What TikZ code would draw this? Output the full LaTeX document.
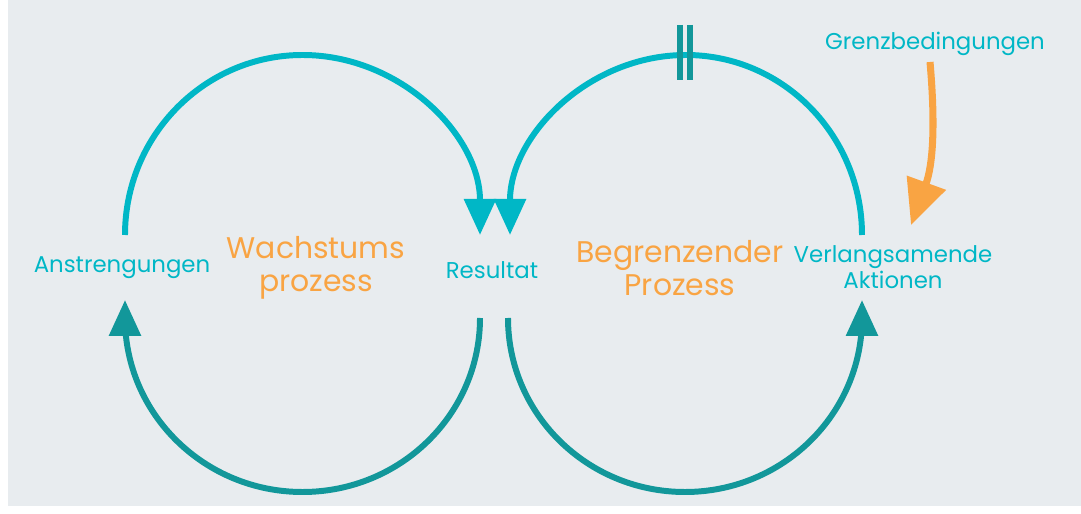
\documentclass[tikz,border=0pt]{standalone}
\usepackage{fontspec}
\setmainfont{Poppins}
\usetikzlibrary{arrows.meta}
\definecolor{loopcyan}{HTML}{00B7C6}
\definecolor{loopteal}{HTML}{12979A}
\definecolor{loaorange}{HTML}{F9A443}
\definecolor{bggrey}{HTML}{E8ECEF}
\begin{document}
\begin{tikzpicture}[outer sep=0pt]
\tikzstyle{loop}=[line width=3.4pt, -{Triangle[width=0.62cm,length=0.72cm]}]
\tikzstyle{term}=[text=loopcyan, font=\fontsize{13}{15}\selectfont, align=center]
\tikzstyle{proc}=[text=loaorange, font=\fontsize{17}{19}\selectfont, align=center]

\fill[white] (0,0) rectangle (21.62,10.28);
\fill[bggrey] (0.16,0.16) rectangle (21.62,10.28);

% upper loops
\coordinate (effortTop)  at (2.5,5.58);
\coordinate (limitTop)   at (17.24,5.58);
\draw[loop, loopcyan] (effortTop) arc[start angle=180, end angle=0, x radius=3.55cm, y radius=3.6cm];
\draw[loop, loopcyan] (limitTop)  arc[start angle=0, end angle=180, x radius=3.52cm, y radius=3.6cm];

% delay
\draw[line width=3pt, loopteal] (13.6,9.78) -- (13.6,8.68);
\draw[line width=3pt, loopteal] (13.8,9.78) -- (13.8,8.68);

% lower loops
\coordinate (resLeft)  at (9.6,3.92);
\coordinate (resRight) at (10.16,3.92);
\draw[loop, loopteal] (resLeft)  arc[start angle=0, end angle=-180, x radius=3.55cm, y radius=3.48cm] -- ++(0,0.36);
\draw[loop, loopteal] (resRight) arc[start angle=180, end angle=360, x radius=3.54cm, y radius=3.48cm] -- ++(0,0.36);

\node[term] (effort)  at (2.44,4.92)  {Anstrengungen};
\node[proc] (growth)  at (6.32,4.92)  {Wachstums\\prozess};
\node[term] (result)  at (9.84,4.88)  {Resultat};
\node[proc] (limit)   at (13.6,4.92)  {Begrenzender\\Prozess};
\node[term] (slowing) at (17.86,4.94) {Verlangsamende\\Aktionen};
\node[term] (bounds)  at (18.7,9.4)   {Grenzbedingungen};

\coordinate (boundsTip) at (18.22,5.78);
\draw[line width=4pt, loaorange, -{Triangle[width=0.8cm,length=0.9cm]}]
  (18.6,9.04) to[out=-85, in=70] (boundsTip);
\end{tikzpicture}
\end{document}
